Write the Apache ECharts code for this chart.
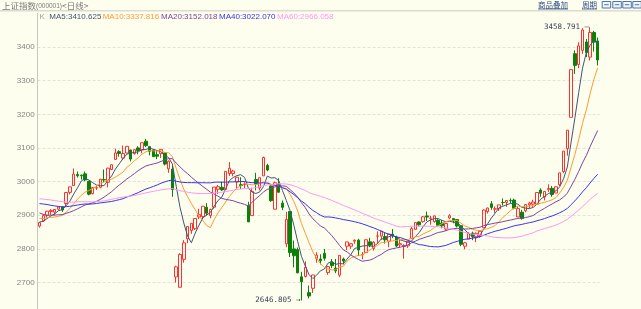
<!DOCTYPE html>
<html><head><meta charset="utf-8">
<script src="https://cdn.jsdelivr.net/npm/echarts@6/dist/echarts.min.js"></script>
<style>html,body{margin:0;padding:0;background:#fefeef;}#c{width:641px;height:309px;}</style>
</head><body><div id="c"></div>
<script>
// ---- data ----
const dates = [
 '2019-12-04','2019-12-05','2019-12-06','2019-12-09','2019-12-10','2019-12-11','2019-12-12','2019-12-13','2019-12-16','2019-12-17','2019-12-18','2019-12-19','2019-12-20','2019-12-23','2019-12-24','2019-12-25','2019-12-26','2019-12-27','2019-12-30','2019-12-31',
 '2020-01-02','2020-01-03','2020-01-06','2020-01-07','2020-01-08','2020-01-09','2020-01-10','2020-01-13','2020-01-14','2020-01-15','2020-01-16','2020-01-17','2020-01-20','2020-01-21','2020-01-22','2020-01-23',
 '2020-02-03','2020-02-04','2020-02-05','2020-02-06','2020-02-07','2020-02-10','2020-02-11','2020-02-12','2020-02-13','2020-02-14','2020-02-17','2020-02-18','2020-02-19','2020-02-20','2020-02-21','2020-02-24','2020-02-25','2020-02-26','2020-02-27','2020-02-28',
 '2020-03-02','2020-03-03','2020-03-04','2020-03-05','2020-03-06','2020-03-09','2020-03-10','2020-03-11','2020-03-12','2020-03-13','2020-03-16','2020-03-17','2020-03-18','2020-03-19','2020-03-20','2020-03-23','2020-03-24','2020-03-25','2020-03-26','2020-03-27','2020-03-30','2020-03-31',
 '2020-04-01','2020-04-02','2020-04-03','2020-04-07','2020-04-08','2020-04-09','2020-04-10','2020-04-13','2020-04-14','2020-04-15','2020-04-16','2020-04-17','2020-04-20','2020-04-21','2020-04-22','2020-04-23','2020-04-24','2020-04-27','2020-04-28','2020-04-29','2020-04-30',
 '2020-05-06','2020-05-07','2020-05-08','2020-05-11','2020-05-12','2020-05-13','2020-05-14','2020-05-15','2020-05-18','2020-05-19','2020-05-20','2020-05-21','2020-05-22','2020-05-25','2020-05-26','2020-05-27','2020-05-28','2020-05-29',
 '2020-06-01','2020-06-02','2020-06-03','2020-06-04','2020-06-05','2020-06-08','2020-06-09','2020-06-10','2020-06-11','2020-06-12','2020-06-15','2020-06-16','2020-06-17','2020-06-18','2020-06-19','2020-06-22','2020-06-23','2020-06-24','2020-06-29','2020-06-30',
 '2020-07-01','2020-07-02','2020-07-03','2020-07-06','2020-07-07','2020-07-08','2020-07-09','2020-07-10','2020-07-13','2020-07-14','2020-07-15'
];
const opens = [
 2868,2883,2900,2911,2909,2918,2925,2935,2968,2988,3021,3019,3023,3001,2964,2981,2983,3006,2998,3036,
 3066,3089,3070,3085,3094,3083,3100,3094,3120,3104,3094,3080,3083,3085,3038,3037,
 2716.7,2686,2769,2830,2855,2860,2895,2896,2924,2899,2924,2977,2983,2977,3024,3024,2999,2991,2991,2929,
 2899,3006,2981,3017,3048,2987,2918,2993,2936,2815,2911,2800,2798,2717,2718,2670,2683,2772,2770,2787,2730,2760,
 2743,2722,2770,2808,2808,2823,2826,2783,2789,2821,2801,2838,2838,2837,2823,2844,2835,2812,2807,2809,2831,
 2858,2880,2881,2898,2891,2881,2885,2877,2859,2892,2890,2887,2869,2808,2829,2847,2836,2840,
 2863,2911,2934,2918,2919,2938,2938,2944,2945,2895,2909,2913,2931,2933,2933,2975,2954,2976,2980,2966,
 2991,3030,3098,3191,3380,3348,3390,3415,3370,3443,3418
];
const closes = [
 2878.12,2899.47,2912.01,2914.48,2917.32,2924.42,2915.70,2967.68,2984.39,3022.42,3017.04,3017.07,3004.94,2962.75,2982.68,2981.88,3007.35,3005.04,3040.02,3050.12,
 3085.20,3083.79,3083.41,3104.80,3066.89,3094.88,3092.29,3115.57,3106.82,3090.04,3074.08,3075.50,3095.79,3052.14,3060.75,2976.53,
 2746.61,2783.29,2818.09,2866.51,2875.96,2890.49,2901.67,2926.90,2906.07,2917.01,2983.62,2984.97,2975.40,3030.15,3039.67,3031.23,3013.05,2987.93,2991.33,2880.30,
 2970.93,2992.90,3011.67,3071.68,3034.51,2943.29,2996.76,2968.52,2923.49,2887.43,2789.25,2779.64,2728.76,2702.13,2745.62,2660.17,2722.44,2781.59,2764.91,2772.20,2747.21,2750.30,
 2734.52,2780.64,2763.99,2820.76,2815.37,2825.90,2796.63,2783.05,2827.28,2811.17,2819.94,2838.49,2852.55,2827.01,2843.98,2838.50,2808.53,2815.49,2810.02,2822.44,2860.08,
 2878.14,2871.52,2895.34,2894.80,2891.56,2898.05,2870.34,2868.46,2875.42,2898.58,2883.74,2867.92,2813.77,2817.97,2846.55,2836.80,2846.22,2852.35,
 2915.43,2921.40,2923.37,2919.25,2930.80,2937.77,2943.75,2943.32,2920.90,2919.74,2890.03,2931.75,2935.87,2939.32,2967.63,2965.27,2970.62,2979.55,2961.52,2984.67,
 3025.98,3090.57,3152.81,3332.88,3345.34,3403.44,3450.59,3383.32,3443.29,3414.62,3361.30
];
const lows = [
 2863,2881,2893,2901,2900,2914,2910,2927,2962,2987,3012,3006,3001,2959,2962,2975,2980,2998,2983,3034,
 3066,3074,3065,3084,3060,3080,3081,3084,3103,3078,3073,3067,3070,3048,3026,2955,
 2700,2685,2759,2817,2845,2856,2889,2887,2899,2891,2919,2963,2972,2977,3017,3016,2978,2978,2981,2880,
 2899,2974,2974,3017,3031,2940,2918,2966,2915,2805,2776,2745,2728,2646.805,2715,2653,2669,2759,2754,2765,2723,2743,
 2728,2716,2754,2797,2800,2815,2779,2769,2788,2805,2795,2815,2827,2816,2805,2832,2805,2803,2771,2803,2829,
 2858,2867,2878,2883,2872,2878,2865,2861,2853,2888,2876,2864,2808,2799,2829,2826,2820,2833,
 2863,2905,2916,2907,2913,2929,2925,2935,2918,2895,2887,2909,2921,2925,2933,2955,2944,2969,2955,2966,
 2987,3025,3077,3191,3320,3337,3380,3370,3360,3386,3345
];
const highs = [
 2880,2903,2913,2918,2918,2926,2926,2968,2985,3039,3030,3021,3030,3002,2984,2988,3007,3036,3041,3051,
 3098,3093,3107,3105,3095,3095,3105,3116,3127,3105,3095,3091,3096,3086,3063,3048,
 2750,2787,2826,2867,2876,2891,2919,2927,2936,2920,2983.7,2990,3000,3030.5,3058,3035,3013.5,3013,3000,2940,
 2982,3026,3012,3074,3053,2989,3000,3010,2944,2910,2911,2825,2804,2732,2763,2691,2723,2790,2784,2800,2750,2770,
 2770,2781,2774,2821,2817,2828,2830,2791,2827.5,2833,2823,2852,2853,2848,2844.5,2859,2839,2831,2814,2822.5,2865,
 2880,2882,2898,2911,2898,2898.5,2889,2886,2877,2903,2892,2888,2869,2821,2849,2851,2849,2856,
 2918,2923,2942,2926,2931,2950,2944,2950,2949,2926,2916,2933,2940,2946,2968,2980,2972,2992,2987,2986,
 3026,3091,3153,3333,3390,3414,3456,3424,3458.791,3448,3428
];
// closes before the visible window (needed for the moving averages at the left edge)
const priorCloses = [
 2957.41,2985.86,2999.60,3024.74,3021.20,3008.81,3031.24,3030.75,2978.12,2985.66,2999.28,3006.45,2977.08,2985.34,2955.43,2929.09,2932.17,2905.19,
 2913.57,2924.86,2947.71,2973.66,3007.88,2991.05,2978.71,2977.33,2938.14,2939.62,2954.38,2940.92,2940.09,2954.93,2980.05,2954.18,2939.32,2929.06,
 2958.20,2975.49,2991.56,2978.60,2978.71,2964.18,2909.97,2914.82,2905.24,2909.87,2891.34,2909.20,2933.99,2911.05,2903.64,2885.29,2906.17,2907.06,2903.19,2889.69,2871.98,
 2875.81,2884.70
];
const maPeriods = [5, 10, 20, 40, 60];
const maLabels = ['MA5:3410.625', 'MA10:3337.816', 'MA20:3152.018', 'MA40:3022.070', 'MA60:2966.058'];
const maColors = ['#3c5873', '#ff9a35', '#7d45a3', '#3535ee', '#ff96f2'];
const yTicks = { min: 2600, max: 3500, step: 100 };
const titleParts = ['上证指数', '(000001)', '<日线>'];
const menuItems = ['商品叠加', '周期'];

// ---- build ----
const allCloses = priorCloses.concat(closes);
const P = priorCloses.length;
function ma(n) {
  return closes.map((_, i) => {
    let s = 0;
    for (let k = P + i - n + 1; k <= P + i; k++) s += allCloses[k];
    return +(s / n).toFixed(3);
  });
}
const kData = closes.map((c, i) => [opens[i], c, lows[i], highs[i]]);
const BG = '#fefeef';

const chart = echarts.init(document.getElementById('c'), null, { renderer: 'canvas' });

const series = [{
  type: 'candlestick',
  data: kData,
  barWidth: 3,
  z: 2,
  itemStyle: { color: BG, color0: '#0a820a', borderColor: '#ff3030', borderColor0: '#0a820a', borderWidth: 1 },
  markPoint: {
    symbol: 'circle', symbolSize: 0, animation: false,
    label: { show: true, position: 'left', distance: 1, fontFamily: 'DejaVu Sans Mono', fontSize: 7.5, color: '#3a4658' },
    data: [
      { type: 'max', valueDim: 'highest', label: { formatter: p => p.value.toFixed(3) + ' \u2014' } },
      { type: 'min', valueDim: 'lowest', label: { formatter: p => p.value.toFixed(3) + ' \u2192' } }
    ]
  }
}];
maPeriods.forEach((n, j) => {
  series.push({
    type: 'line', data: ma(n), showSymbol: false, symbol: 'none', z: 3, silent: true,
    lineStyle: { width: 1, color: maColors[j] }
  });
});

const graphic = [
  { type: 'rect', shape: { x: 0, y: 10, width: 641, height: 1.5 }, style: { fill: '#dcdcd0' }, silent: true },
  { type: 'text', x: 2, y: 5.5, style: { text: '{a|' + titleParts[0] + '}{b|' + titleParts[1] + '}{a|' + titleParts[2] + '}', verticalAlign: 'middle',
      rich: { a: { fontSize: 8.5, lineHeight: 10, verticalAlign: 'middle', fontFamily: 'Noto Sans CJK SC', fill: '#7a7a7a' }, b: { fontSize: 6.5, lineHeight: 10, verticalAlign: 'middle', fontFamily: 'Liberation Sans', fill: '#7a7a7a', padding: [2, 0, 0, 0] } } } },
  { type: 'text', x: 538, y: 5, style: { text: menuItems[0], fontSize: 7.5, fontFamily: 'Noto Sans CJK SC', fill: '#2a4d8a', verticalAlign: 'middle' } },
  { type: 'rect', shape: { x: 538, y: 8.6, width: 30, height: 0.8 }, style: { fill: '#2a4d8a' } },
  { type: 'text', x: 582, y: 5, style: { text: menuItems[1], fontSize: 7.5, fontFamily: 'Noto Sans CJK SC', fill: '#2a4d8a', verticalAlign: 'middle' } },
  { type: 'rect', shape: { x: 582, y: 8.6, width: 15, height: 0.8 }, style: { fill: '#2a4d8a' } },
  { type: 'text', x: 39.5, y: 16.5, style: { text: 'K', fontSize: 8, fontFamily: 'Liberation Sans', fill: '#a0a0a0', verticalAlign: 'middle' } }
];
[601.7, 612.3, 622.3, 632.3].forEach((x, i) => {
  graphic.push({ type: 'rect', shape: { x: x + 0.5, y: 1.5, width: 8.5, height: 6.5 }, style: { fill: '#f2f6fb', stroke: '#4a74b0', lineWidth: 1 } });
  graphic.push({ type: 'rect', shape: { x: x + 2.5, y: 4.2, width: 4.5, height: 1 }, style: { fill: '#4a74b0' } });
});
const labelX = [49.3, 102.7, 161, 219, 277];
maLabels.forEach((t, j) => {
  graphic.push({ type: 'text', x: labelX[j], y: 16.5, style: { text: t, fontSize: 8, fontFamily: 'Liberation Sans', fill: maColors[j], verticalAlign: 'middle' } });
});

chart.setOption({
  animation: false,
  backgroundColor: BG,
  grid: { left: 37.6, right: 41.4, top: 13.35, bottom: -7.2, containLabel: false, outerBoundsMode: 'none' },
  xAxis: { type: 'category', data: dates, boundaryGap: true, axisLine: { show: false }, axisTick: { show: false }, axisLabel: { show: false }, splitLine: { show: false } },
  yAxis: {
    type: 'value', min: yTicks.min, max: yTicks.max, interval: yTicks.step, scale: true,
    axisLine: { show: true, lineStyle: { color: '#c8c8c0', width: 1 } },
    axisTick: { show: false },
    axisLabel: { color: '#858585', fontSize: 8, fontFamily: 'Liberation Sans', margin: 3, showMaxLabel: false, showMinLabel: false, formatter: v => String(v) },
    splitLine: { show: true, showMaxLine: false, showMinLine: false, lineStyle: { color: '#e2e2da', type: [3, 2], width: 1 } }
  },
  tooltip: { show: false },
  graphic: graphic,
  series: series
});
</script></body></html>
